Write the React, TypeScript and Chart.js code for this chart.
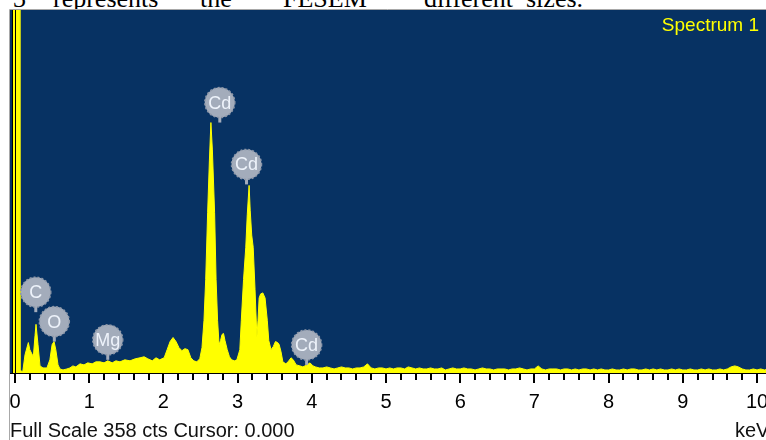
import React, { useEffect, useRef } from "react";
import { Chart, registerables } from "chart.js";

Chart.register(...registerables);

// ---- Data ----
const peakEnergyKeV = [
  -0.034, -0.028, 0.054, 0.067, 0.104, 0.135, 0.18, 0.2, 0.247, 0.27, 0.283, 0.31, 0.337, 0.377, 0.43,
  0.47, 0.5, 0.526, 0.55, 0.58, 0.606, 0.647, 0.7, 0.74, 0.78, 0.82, 0.876, 0.93, 0.98, 1.04, 1.09,
  1.146, 1.2, 1.25, 1.31, 1.36, 1.415, 1.48, 1.55, 1.62, 1.685, 1.74, 1.79, 1.85, 1.9, 1.95, 2.01,
  2.05, 2.09, 2.13, 2.17, 2.21, 2.25, 2.29, 2.33, 2.37, 2.41, 2.45, 2.49, 2.52, 2.547, 2.57, 2.596,
  2.62, 2.64, 2.66, 2.69, 2.71, 2.73, 2.75, 2.77, 2.79, 2.81, 2.83, 2.86, 2.89, 2.92, 2.96, 2.99,
  3.03, 3.05, 3.08, 3.11, 3.13, 3.155, 3.17, 3.19, 3.21, 3.235, 3.26, 3.275, 3.29, 3.31, 3.34, 3.37,
  3.4, 3.42, 3.45, 3.48, 3.51, 3.54, 3.56, 3.585, 3.61, 3.65, 3.68, 3.72, 3.75, 3.79, 3.84, 3.88,
  3.935, 3.976, 4.016,
];
const peakCounts = [
  0, 500, 500, 3, 1, 18, 30, 23, 16, 37, 48, 28, 7, 5, 5,
  13, 28, 31, 23, 8, 4, 3, 4, 5, 7, 6, 9, 8, 10, 9, 11,
  11, 10, 12, 10, 12, 11, 13, 12, 14, 15, 16, 14, 12, 15, 13, 15,
  23, 31, 35, 31, 25, 22, 24, 23, 15, 12, 11, 14, 25, 52, 92, 158,
  210, 247, 220, 158, 92, 52, 28, 32, 38, 39, 32, 23, 16, 13, 12, 13,
  23, 52, 92, 124, 156, 185, 160, 136, 124, 82, 35, 52, 74, 78, 79, 74,
  52, 32, 23, 26, 31, 30, 28, 21, 11, 9, 11, 15, 13, 8, 7, 6,
  8, 10, 7,
];
const tailStartKeV = 4.05;
const tailStepKeV = 0.05;
const tailCounts = [
  6, 5, 5, 6, 5, 4, 5, 6, 5, 5,
  4, 5, 5, 6, 9, 5, 4, 5, 5, 4,
  5, 4, 5, 5, 4, 6, 5, 4, 5, 4,
  4, 5, 4, 4, 5, 3, 4, 5, 4, 4,
  5, 4, 4, 3, 4, 5, 4, 4, 3, 4,
  4, 4, 3, 4, 4, 5, 4, 3, 4, 4,
  7, 4, 3, 4, 4, 4, 3, 4, 4, 3,
  4, 3, 4, 4, 3, 4, 3, 4, 3, 3,
  4, 3, 3, 4, 3, 4, 4, 3, 3, 4,
  3, 4, 3, 4, 3, 3, 4, 3, 4, 3,
  3, 4, 3, 3, 4, 3, 4, 3, 3, 4,
  3, 4, 6, 7, 6, 4, 3, 3, 4, 3,
  4, 3, 4,
];

const majorTickLabels = ["0", "1", "2", "3", "4", "5", "6", "7", "8", "9", "10"];
const minorTickStepKeV = 0.2;
const fullScaleCounts = 358;

const elementLabels = ["C", "O", "Mg", "Cd", "Cd", "Cd"];
const elementEnergyKeV = [0.28, 0.53, 1.25, 2.76, 3.12, 3.93];
const elementTipCounts = [60, 31, 13, 247, 186, 8];

const captionWords = ["3", "represents", "the", "FESEM", "different", "sizes."];
const captionLeft = [13, 53, 200, 283, 424, 526];

const SANS = '"Liberation Sans", Arial, sans-serif';

const decorPlugin = {
  id: "spectrumDecor",
  beforeDatasetsDraw(chart: any) {
    const { ctx, chartArea: a } = chart;
    ctx.save();
    ctx.fillStyle = "#073263";
    ctx.fillRect(a.left, a.top, a.right - a.left, a.bottom - a.top);
    ctx.restore();
  },
  afterDatasetsDraw(chart: any) {
    const { ctx, chartArea: a, scales } = chart;
    const xs = scales.x;
    const ys = scales.y;
    ctx.save();

    // grey frame
    ctx.strokeStyle = "#a8a8a8";
    ctx.lineWidth = 1;
    ctx.beginPath();
    ctx.moveTo(a.left - 0.5, 440);
    ctx.lineTo(a.left - 0.5, a.top - 0.5);
    ctx.lineTo(a.right, a.top - 0.5);
    ctx.stroke();

    // black vertical lines (frame + cursor at 0)
    ctx.strokeStyle = "#000";
    const xZero = Math.round(xs.getPixelForValue(0)) + 0.5;
    ctx.beginPath();
    ctx.moveTo(a.left + 2.5, a.top);
    ctx.lineTo(a.left + 2.5, a.bottom);
    ctx.moveTo(xZero, a.top);
    ctx.lineTo(xZero, a.bottom);
    ctx.stroke();

    // axis line
    ctx.beginPath();
    ctx.moveTo(a.left, a.bottom + 0.5);
    ctx.lineTo(a.right, a.bottom + 0.5);
    ctx.stroke();

    // ticks
    ctx.fillStyle = "#000";
    const nMinor = Math.round((majorTickLabels.length - 1) / minorTickStepKeV);
    for (let i = 0; i <= nMinor; i++) {
      const e = i * minorTickStepKeV;
      const px = Math.round(xs.getPixelForValue(e));
      const major = i % Math.round(1 / minorTickStepKeV) === 0;
      ctx.fillRect(px - 1, a.bottom + 1, 2, major ? 9 : 6);
    }

    // tick labels
    ctx.font = `20px ${SANS}`;
    ctx.textAlign = "center";
    ctx.textBaseline = "alphabetic";
    majorTickLabels.forEach((lab, i) => {
      ctx.fillText(lab, xs.getPixelForValue(i), 408);
    });

    // bottom status text
    ctx.textAlign = "left";
    ctx.fillStyle = "#111";
    ctx.fillText(`Full Scale ${fullScaleCounts} cts Cursor: 0.000`, 10, 437);
    ctx.fillText("keV", 735, 437);

    // spectrum name
    ctx.font = `19px ${SANS}`;
    ctx.textAlign = "right";
    ctx.fillStyle = "#ffff00";
    ctx.fillText("Spectrum 1", 759, 31);

    // element markers
    elementLabels.forEach((lab, i) => {
      const px = xs.getPixelForValue(elementEnergyKeV[i]);
      const tip = ys.getPixelForValue(elementTipCounts[i]);
      const cy = tip - 20;
      ctx.fillStyle = "#a3acbb";
      ctx.fillRect(px - 1.5, cy + 12, 3, 8);
      ctx.beginPath();
      ctx.arc(px, cy, 15, 0, Math.PI * 2);
      ctx.fill();
      ctx.setLineDash([2, 2]);
      ctx.strokeStyle = "#8d97a8";
      ctx.lineWidth = 1.5;
      ctx.stroke();
      ctx.setLineDash([]);
      ctx.fillStyle = "#eef3fb";
      ctx.font = `18px ${SANS}`;
      ctx.textAlign = "center";
      ctx.textBaseline = "middle";
      ctx.fillText(lab, px, cy + 1);
      ctx.textBaseline = "alphabetic";
    });

    ctx.restore();
  },
};

export default function App() {
  const canvasRef = useRef<HTMLCanvasElement | null>(null);

  useEffect(() => {
    const canvas = canvasRef.current;
    if (!canvas) return;
    const points = peakEnergyKeV.map((e, i) => ({ x: e, y: peakCounts[i] }));
    tailCounts.forEach((c, i) => {
      points.push({ x: tailStartKeV + i * tailStepKeV, y: c });
    });

    const chart = new Chart(canvas, {
      type: "line",
      data: {
        datasets: [
          {
            data: points,
            borderColor: "#ffff00",
            backgroundColor: "#ffff00",
            borderWidth: 1,
            pointRadius: 0,
            tension: 0,
            fill: "origin",
            clip: 0,
          } as any,
        ],
      },
      options: {
        responsive: false,
        devicePixelRatio: 1,
        animation: false,
        events: [],
        layout: { padding: { left: 10, top: 10, right: 0, bottom: 67 } },
        plugins: { legend: { display: false }, tooltip: { enabled: false } },
        scales: {
          x: { type: "linear", min: -0.0674, max: 10.121, display: false },
          y: { type: "linear", min: 0, max: fullScaleCounts, display: false },
        },
      },
      plugins: [decorPlugin],
    });
    return () => chart.destroy();
  }, []);

  return (
    <div
      style={{
        position: "fixed",
        left: 0,
        top: 0,
        width: 766,
        height: 440,
        background: "#fff",
        overflow: "hidden",
      }}
    >
      <div
        style={{
          position: "absolute",
          left: 0,
          top: 0,
          width: 766,
          height: 9,
          overflow: "hidden",
        }}
      >
        {captionWords.map((w, i) => (
          <span
            key={i}
            style={{
              position: "absolute",
              left: captionLeft[i],
              top: -14.3,
              font: '26px "Liberation Serif", "Times New Roman", serif',
              lineHeight: "26px",
              whiteSpace: "nowrap",
              color: "#000",
            }}
          >
            {w}
          </span>
        ))}
      </div>
      <canvas
        ref={canvasRef}
        width={766}
        height={440}
        style={{ position: "absolute", left: 0, top: 0, display: "block" }}
      />
    </div>
  );
}
